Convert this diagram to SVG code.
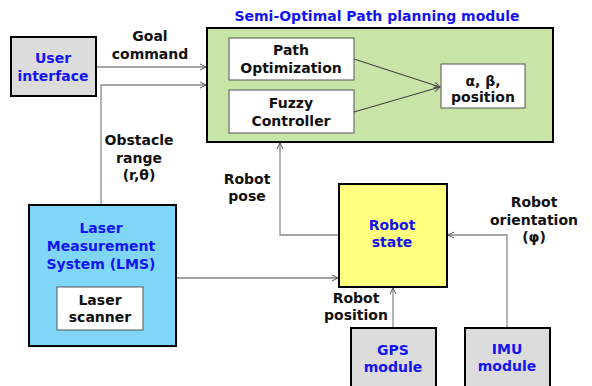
<svg xmlns="http://www.w3.org/2000/svg" width="592" height="386" viewBox="0 0 592 386">
<style>
text{font-family:"DejaVu Sans",Verdana,sans-serif;font-weight:bold;font-size:14px;text-anchor:middle;fill:#111}
.b{fill:#1414f0}
.box{stroke:#000;stroke-width:2}
.inner{fill:#fff;stroke:#555;stroke-width:1}
.c{fill:none;stroke:#8a8a8a;stroke-width:1.3}
.d{fill:none;stroke:#444;stroke-width:1.1}
</style>
<defs>
<marker id="ah" markerWidth="8" markerHeight="8" refX="7" refY="4" orient="auto" markerUnits="userSpaceOnUse">
<path d="M1,1 L7,4 L1,7" fill="none" stroke="#555" stroke-width="1"/>
</marker>
</defs>
<g id="connectors">
<path class="c" d="M96,67 H206" marker-end="url(#ah)"/>
<path class="c" d="M101,214 V85 H206" marker-end="url(#ah)"/>
<path class="c" d="M339,235 H280 V143" marker-end="url(#ah)"/>
<path class="d" d="M176,278 H338" marker-end="url(#ah)"/>
<path class="c" d="M393,328 V288" marker-end="url(#ah)"/>
<path class="c" d="M507,328 V235 H448" marker-end="url(#ah)"/>
<text x="150" y="41">Goal</text>
<text x="150" y="59">command</text>
<text x="139" y="145">Obstacle</text>
<text x="139" y="163">range</text>
<text x="139" y="180">(r,θ)</text>
<text x="247" y="184">Robot</text>
<text x="247" y="201">pose</text>
<text x="534" y="207">Robot</text>
<text x="534" y="225">orientation</text>
<text x="534" y="242">(φ)</text>
<text x="356" y="303">Robot</text>
<text x="356" y="320">position</text>
</g>
<g id="user-interface">
<rect class="box" x="11" y="37" width="85" height="59" fill="#dcdcdc"/>
<text class="b" x="53" y="63">User</text>
<text class="b" x="53" y="81">interface</text>
</g>
<g id="planning-module">
<text class="b" x="377" y="21">Semi-Optimal Path planning module</text>
<rect class="box" x="207" y="28" width="346" height="114" fill="#c8e4a6"/>
<g id="path-optimization">
<rect class="inner" x="229" y="38" width="125" height="42"/>
<text x="291" y="55">Path</text>
<text x="291" y="73">Optimization</text>
</g>
<g id="fuzzy-controller">
<rect class="inner" x="229" y="90" width="125" height="43"/>
<text x="291" y="108">Fuzzy</text>
<text x="291" y="126">Controller</text>
</g>
<g id="output">
<rect class="inner" x="441" y="64" width="84" height="44"/>
<text x="483" y="86">α, β,</text>
<text x="483" y="102">position</text>
</g>
<path class="d" d="M354,59 L440,87" marker-end="url(#ah)"/>
<path class="d" d="M354,112 L440,87" marker-end="url(#ah)"/>
</g>
<g id="lms">
<rect class="box" x="29" y="205" width="147" height="141" fill="#80d6f6"/>
<text class="b" x="101" y="233">Laser</text>
<text class="b" x="101" y="251">Measurement</text>
<text class="b" x="101" y="269">System (LMS)</text>
<g id="laser-scanner">
<rect class="inner" x="57" y="287" width="86" height="43"/>
<text x="100" y="305">Laser</text>
<text x="100" y="322">scanner</text>
</g>
</g>
<g id="robot-state">
<rect class="box" x="339" y="184" width="108" height="103" fill="#ffff80"/>
<text class="b" x="392" y="230">Robot</text>
<text class="b" x="392" y="247">state</text>
</g>
<g id="gps">
<rect class="box" x="351" y="328" width="85" height="70" fill="#dcdcdc"/>
<text class="b" x="393" y="355">GPS</text>
<text class="b" x="393" y="372">module</text>
</g>
<g id="imu">
<rect class="box" x="465" y="328" width="85" height="70" fill="#dcdcdc"/>
<text class="b" x="507" y="354">IMU</text>
<text class="b" x="507" y="371">module</text>
</g>
</svg>
